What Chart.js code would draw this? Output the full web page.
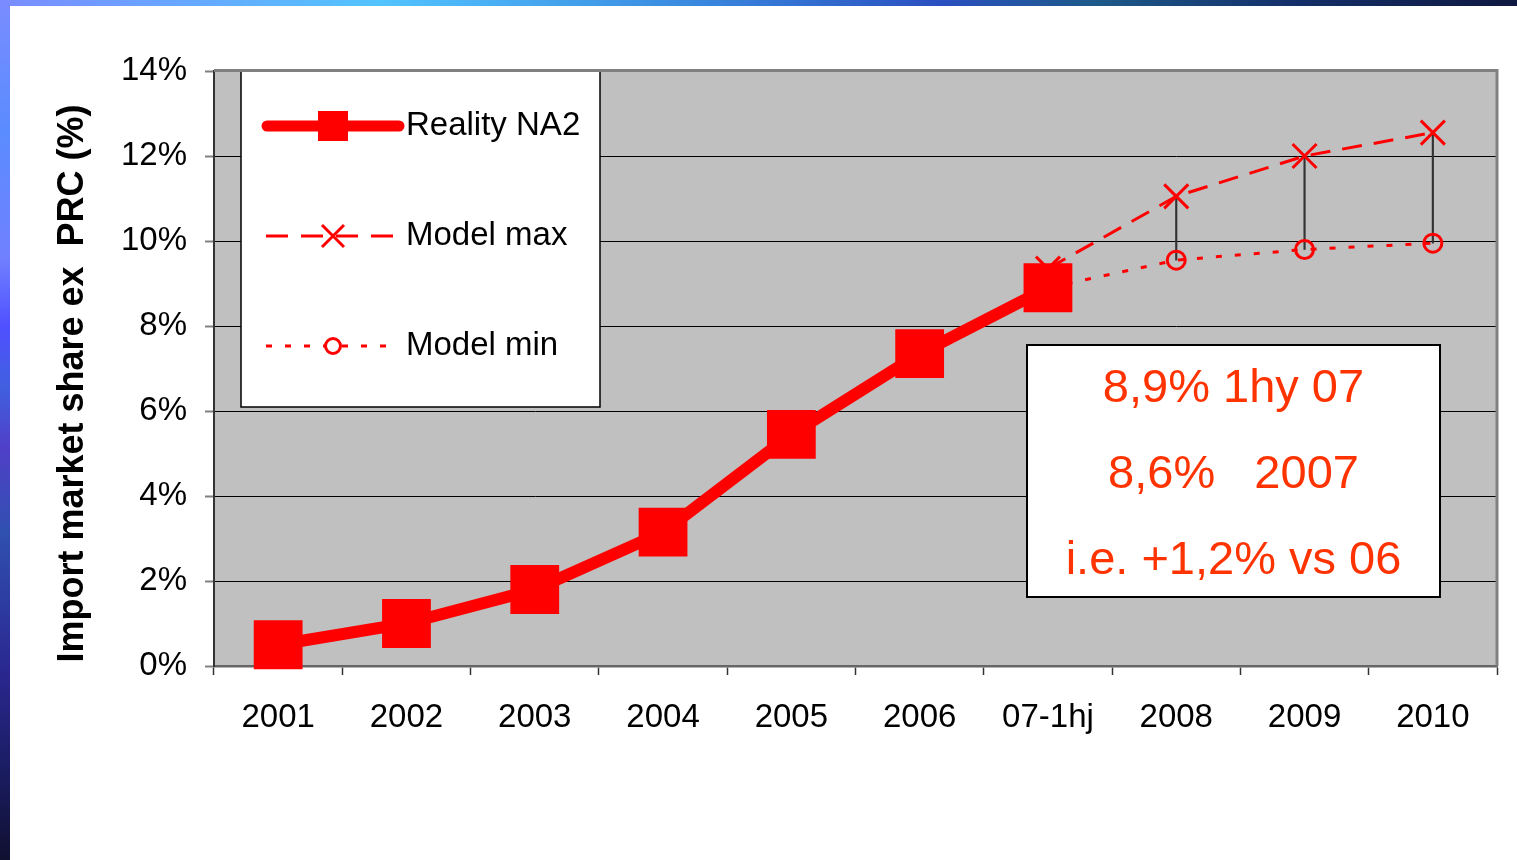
<!DOCTYPE html>
<html>
<head>
<meta charset="utf-8">
<script src="https://cdn.jsdelivr.net/npm/chart.js@4.4.1/dist/chart.umd.min.js"></script>
<style>
  html, body { margin: 0; padding: 0; background: #fff; }
  #wrap { position: relative; width: 1517px; height: 860px; overflow: hidden; }
  #topbar { position: absolute; left: 0; top: 0; width: 1517px; height: 6px;
    background: linear-gradient(90deg, #7a8cff 0%, #52c4ff 25%, #3a8be0 45%, #2a4fc0 62%, #1d5a8a 72%, #14306a 85%, #0f1840 100%); }
  #leftbar { position: absolute; left: 0; top: 0; width: 10px; height: 860px;
    background: linear-gradient(180deg, #7a8cff 0%, #5a8cff 15%, #7080ff 30%, #5050ff 38%, #4060e0 45%, #5040c8 52%, #3050b0 62%, #2a2890 78%, #1a1c60 90%, #101030 100%); }
  canvas { position: absolute; left: 0; top: 0; }
</style>
</head>
<body>
<div id="wrap">
  <canvas id="chart" width="1517" height="860"></canvas>
  <div id="topbar"></div>
  <div id="leftbar"></div>
</div>
<script>
// chart data
const categories = ['2001', '2002', '2003', '2004', '2005', '2006', '07-1hj', '2008', '2009', '2010'];
const realityNA2 = [0.5, 1.0, 1.8, 3.15, 5.45, 7.35, 8.9, null, null, null];
const modelMax   = [null, null, null, null, null, null, 9.35, 11.05, 12.0, 12.55];
const modelMin   = [null, null, null, null, null, null, 8.9, 9.55, 9.8, 9.95];
const yTicks = [0, 2, 4, 6, 8, 10, 12, 14];
const noteLines = ['8,9% 1hy 07', '8,6%   2007', 'i.e. +1,2% vs 06'];

// high-low lines between max and min (from 2008 on)
const hiLow = categories.map((c, i) =>
  i > 6 && modelMax[i] != null && modelMin[i] != null ? [modelMin[i], modelMax[i]] : null);

const RED = '#ff0000';
const FONT = "'Liberation Sans', Arial, sans-serif";

const boxes = {
  id: 'boxes',
  beforeDraw(chart) {
    const { ctx, chartArea: a } = chart;
    ctx.save();
    ctx.fillStyle = '#c0c0c0';
    ctx.fillRect(a.left, a.top, a.right - a.left, a.bottom - a.top);
    ctx.restore();
  },
  afterDatasetsDraw(chart) {
    const { ctx, chartArea: a } = chart;
    ctx.save();

    // legend box
    const lx = a.left + 27, ly = a.top, lw = 359, lh = 336;
    ctx.fillStyle = '#fff';
    ctx.fillRect(lx, ly, lw, lh);
    ctx.strokeStyle = '#000';
    ctx.lineWidth = 1.5;
    ctx.strokeRect(lx, ly, lw, lh);

    const rows = [55, 165, 275];
    const mx = lx + 92;
    ctx.strokeStyle = RED;
    ctx.fillStyle = RED;

    // Reality NA2
    ctx.lineWidth = 11; ctx.lineCap = 'round';
    ctx.beginPath(); ctx.moveTo(lx + 26, ly + rows[0]); ctx.lineTo(lx + 158, ly + rows[0]); ctx.stroke();
    ctx.fillRect(mx - 15, ly + rows[0] - 15, 30, 30);

    // Model max
    ctx.lineCap = 'butt'; ctx.lineWidth = 3;
    ctx.setLineDash([22, 13]);
    ctx.beginPath(); ctx.moveTo(lx + 25, ly + rows[1]); ctx.lineTo(lx + 155, ly + rows[1]); ctx.stroke();
    ctx.setLineDash([]);
    ctx.beginPath();
    ctx.moveTo(mx - 11, ly + rows[1] - 11); ctx.lineTo(mx + 11, ly + rows[1] + 11);
    ctx.moveTo(mx + 11, ly + rows[1] - 11); ctx.lineTo(mx - 11, ly + rows[1] + 11);
    ctx.stroke();

    // Model min
    ctx.setLineDash([6, 13]);
    ctx.beginPath(); ctx.moveTo(lx + 25, ly + rows[2]); ctx.lineTo(lx + 150, ly + rows[2]); ctx.stroke();
    ctx.setLineDash([]);
    ctx.fillStyle = '#fff';
    ctx.beginPath(); ctx.arc(mx, ly + rows[2], 7.5, 0, Math.PI * 2); ctx.fill(); ctx.stroke();

    ctx.fillStyle = '#000';
    ctx.font = '33px ' + FONT;
    ctx.textBaseline = 'middle';
    ctx.textAlign = 'left';
    ['Reality NA2', 'Model max', 'Model min'].forEach((t, i) => ctx.fillText(t, lx + 165, ly + rows[i]));

    // note box
    const nx = a.left + 813, ny = a.top + 274, nw = 413, nh = 252;
    ctx.fillStyle = '#fff';
    ctx.fillRect(nx, ny, nw, nh);
    ctx.strokeStyle = '#000';
    ctx.lineWidth = 2;
    ctx.strokeRect(nx, ny, nw, nh);
    ctx.fillStyle = '#ff3300';
    ctx.font = '47px ' + FONT;
    ctx.textAlign = 'center';
    noteLines.forEach((t, i) => ctx.fillText(t, nx + nw / 2, ny + 44 + i * 86));

    // top and right frame
    ctx.strokeStyle = '#808080';
    ctx.lineWidth = 3;
    ctx.beginPath();
    ctx.moveTo(a.left, a.top - 0.5); ctx.lineTo(a.right, a.top - 0.5); ctx.lineTo(a.right, a.bottom);
    ctx.stroke();
    ctx.restore();
  }
};

new Chart(document.getElementById('chart'), {
  data: {
    labels: categories,
    datasets: [
      {
        type: 'line', label: 'Reality NA2', data: realityNA2, order: 1, clip: false,
        borderColor: RED, backgroundColor: RED, borderWidth: 12,
        pointStyle: 'rect', pointRadius: 34.5, pointBorderWidth: 0
      },
      {
        type: 'line', label: 'Model max', data: modelMax, order: 2, clip: false,
        borderColor: RED, backgroundColor: RED, borderWidth: 3, borderDash: [20, 12],
        pointStyle: 'crossRot', pointRadius: 17, pointBorderWidth: 3
      },
      {
        type: 'line', label: 'Model min', data: modelMin, order: 3, clip: false,
        borderColor: RED, backgroundColor: 'rgba(0,0,0,0)', borderWidth: 3, borderDash: [6, 13],
        pointStyle: 'circle', pointRadius: 9, pointBorderWidth: 3
      },
      {
        type: 'bar', label: 'hi-low', data: hiLow, order: 4,
        backgroundColor: '#333', borderWidth: 0, barThickness: 1.5, grouped: false
      }
    ]
  },
  options: {
    responsive: false,
    animation: false,
    events: [],
    layout: { autoPadding: false, padding: { left: 10, right: 20, top: 71, bottom: 114 } },
    plugins: { legend: { display: false }, tooltip: { enabled: false } },
    scales: {
      x: {
        offset: true,
        afterFit: s => { s.height = 80; s.paddingLeft = 0; s.paddingRight = 0; },
        grid: { offset: true, drawOnChartArea: false, tickLength: 9, tickColor: '#333', tickWidth: 1.5 },
        border: { color: '#666', width: 2.5 },
        ticks: { color: '#000', font: { family: FONT, size: 33 }, padding: 23, maxRotation: 0 }
      },
      y: {
        min: 0, max: 14,
        afterBuildTicks: s => { s.ticks = yTicks.map(v => ({ value: v })); },
        afterFit: s => { s.width = 204; s.paddingTop = 0; s.paddingBottom = 0; },
        grid: { color: '#000', lineWidth: 1, tickLength: 9, tickColor: '#808080', tickWidth: 2 },
        border: { color: '#333', width: 2 },
        ticks: { color: '#000', font: { family: FONT, size: 33 }, padding: 18, callback: v => v + '%' },
        title: {
          display: true, text: 'Import market share ex  PRC (%)   ', color: '#000',
          font: { family: FONT, size: 36, weight: 'bold' }, padding: { top: 41, bottom: 0 }
        }
      }
    }
  },
  plugins: [boxes]
});
</script>
</body>
</html>
